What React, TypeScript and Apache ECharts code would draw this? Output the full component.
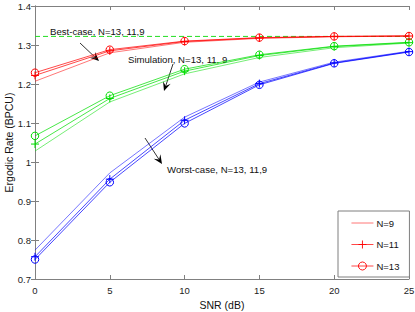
import React, { useEffect, useRef } from "react";
import * as echarts from "echarts";

const snr = [0, 5, 10, 15, 20, 25];
const xTicks = [0, 5, 10, 15, 20, 25];
const yTicks = [0.7, 0.8, 0.9, 1, 1.1, 1.2, 1.3, 1.4];

const bestBound = [1.322, 1.322, 1.322, 1.322, 1.322, 1.322];

const redN13 = [1.229, 1.288, 1.310, 1.319, 1.322, 1.323];
const redN11 = [1.222, 1.285, 1.309, 1.318, 1.322, 1.323];
const redN9 = [1.207, 1.280, 1.307, 1.317, 1.321, 1.323];

const greenN13 = [1.067, 1.170, 1.238, 1.275, 1.297, 1.307];
const greenN11 = [1.046, 1.163, 1.233, 1.273, 1.296, 1.306];
const greenN9 = [1.028, 1.154, 1.226, 1.268, 1.293, 1.305];

const blueN13 = [0.750, 0.948, 1.099, 1.198, 1.253, 1.282];
const blueN11 = [0.757, 0.956, 1.107, 1.201, 1.254, 1.283];
const blueN9 = [0.774, 0.972, 1.115, 1.205, 1.256, 1.284];

const FONT = "Liberation Sans, Arial, Helvetica, sans-serif";
const PLUS = "path://M5,0L5,10M0,5L10,5";

function pairs(v: number[]) {
  return snr.map((x, i) => [x, v[i]]);
}

function mkSeries(name: string, vals: number[], color: string, kind: "none" | "plus" | "circle", z = 2) {
  const s: any = {
    type: "line",
    name,
    color,
    data: pairs(vals),
    z,
    lineStyle: { color, width: 0.9, opacity: kind === "none" ? 0.6 : 0.8 },
    itemStyle: { color: "transparent", borderColor: color, borderWidth: kind === "none" ? 0 : 1 },
    emphasis: { disabled: true },
    showSymbol: kind !== "none",
  };
  if (kind === "none") {
    s.symbol = "none";
  } else if (kind === "plus") {
    s.symbol = PLUS;
    s.symbolSize = 8;
  } else {
    s.symbol = "circle";
    s.symbolSize = 7.5;
  }
  return s;
}

function arrow(x1: number, y1: number, x2: number, y2: number) {
  const dx = x2 - x1;
  const dy = y2 - y1;
  const len = Math.sqrt(dx * dx + dy * dy);
  const ux = dx / len;
  const uy = dy / len;
  const hl = 9;
  const hw = 4;
  const bx = x2 - ux * hl;
  const by = y2 - uy * hl;
  const nx = -uy;
  const ny = ux;
  const mx = x2 - ux * hl * 0.6;
  const my = y2 - uy * hl * 0.6;
  return [
    {
      type: "line",
      shape: { x1, y1, x2: mx, y2: my },
      style: { stroke: "#000", lineWidth: 0.8 },
      silent: true,
    },
    {
      type: "polygon",
      shape: {
        points: [
          [x2, y2],
          [bx + nx * hw, by + ny * hw],
          [mx, my],
          [bx - nx * hw, by - ny * hw],
        ],
      },
      style: { fill: "#000" },
      silent: true,
    },
  ];
}

function label(text: string, x: number, y: number) {
  return {
    type: "text",
    x,
    y,
    style: { text, fill: "#111", font: `9.6px ${FONT}`, textVerticalAlign: "middle" },
    silent: true,
  };
}

export default function App() {
  const ref = useRef<HTMLDivElement>(null);
  useEffect(() => {
    const chart = echarts.init(ref.current!, null, { renderer: "svg" });
    const axisColor = "#808080";
    const fmt = (v: number) => String(+Number(v).toFixed(1));
    const legendMark = { color: "transparent", borderColor: "#ff0000", borderWidth: 0.9 };
    const option: any = {
      animation: false,
      backgroundColor: "#fff",
      grid: { left: 35, right: 6, top: 6, bottom: 33, show: false, containLabel: false, outerBoundsMode: "none" },
      legend: {
        orient: "vertical",
        left: 338,
        top: 211,
        data: [
          { name: "N=9" },
          { name: "N=11", itemStyle: legendMark, lineStyle: { width: 0.9 } },
          { name: "N=13", itemStyle: legendMark, lineStyle: { width: 0.9 } },
        ],
        backgroundColor: "#fff",
        borderColor: "#7f7f7f",
        borderWidth: 1,
        borderRadius: 0,
        padding: [7, 10, 6, 13],
        itemWidth: 22,
        itemHeight: 10,
        itemGap: 11.5,
        selectedMode: false,
        lineStyle: { width: 0.9 },
        textStyle: { fontFamily: FONT, fontSize: 9.5, color: "#111", padding: [0, 0, 0, -2] },
      },
      xAxis: [
        {
          type: "value",
          min: 0,
          max: 25,
          interval: 5,
          name: "SNR (dB)",
          nameLocation: "middle",
          nameGap: 20,
          nameMoveOverlap: false,
          nameTextStyle: { fontFamily: FONT, fontSize: 10.5, color: "#111" },
          axisLine: { show: true, lineStyle: { color: axisColor, width: 1 } },
          axisTick: { show: true, inside: true, length: 4, lineStyle: { color: axisColor } },
          axisLabel: { fontFamily: FONT, fontSize: 9.5, color: "#222", margin: 6, formatter: (v: number) => (xTicks.includes(v) ? String(v) : "") },
          splitLine: { show: false },
        },
        {
          type: "value",
          position: "top",
          min: 0,
          max: 25,
          interval: 5,
          axisLine: { show: true, lineStyle: { color: axisColor, width: 1 } },
          axisTick: { show: true, inside: true, length: 4, lineStyle: { color: axisColor } },
          axisLabel: { show: false },
          splitLine: { show: false },
        },
      ],
      yAxis: [
        {
          type: "value",
          min: 0.7,
          max: 1.4,
          interval: 0.1,
          name: "Ergodic Rate (BPCU)",
          nameLocation: "middle",
          nameGap: 21,
          nameMoveOverlap: false,
          nameTextStyle: { fontFamily: FONT, fontSize: 10.5, color: "#111" },
          axisLine: { show: true, lineStyle: { color: axisColor, width: 1 } },
          axisTick: { show: true, inside: true, length: 4, lineStyle: { color: axisColor } },
          axisLabel: {
            fontFamily: FONT,
            fontSize: 9.5,
            color: "#222",
            margin: 4,
            formatter: (v: number) => (yTicks.some((t) => Math.abs(t - v) < 1e-6) ? fmt(v) : ""),
          },
          splitLine: { show: false },
        },
        {
          type: "value",
          position: "right",
          min: 0.7,
          max: 1.4,
          interval: 0.1,
          axisLine: { show: true, lineStyle: { color: axisColor, width: 1 } },
          axisTick: { show: true, inside: true, length: 4, lineStyle: { color: axisColor } },
          axisLabel: { show: false },
          splitLine: { show: false },
        },
      ],
      series: [
        {
          type: "line",
          name: "bound",
          color: "#22dd22",
          data: pairs(bestBound),
          symbol: "none",
          showSymbol: false,
          z: 1,
          itemStyle: { color: "#22dd22" },
          lineStyle: { color: "#22dd22", width: 1, type: [5, 3], opacity: 1 },
          emphasis: { disabled: true },
        },
        mkSeries("b9", blueN9, "#0000ff", "none"),
        mkSeries("b11", blueN11, "#0000ff", "plus"),
        mkSeries("b13", blueN13, "#0000ff", "circle"),
        mkSeries("g9", greenN9, "#00dd00", "none"),
        mkSeries("g11", greenN11, "#00dd00", "plus"),
        mkSeries("g13", greenN13, "#00dd00", "circle"),
        mkSeries("N=9", redN9, "#ff0000", "none", 3),
        mkSeries("N=11", redN11, "#ff0000", "plus", 3),
        mkSeries("N=13", redN13, "#ff0000", "circle", 3),
      ],
      graphic: [
        label("Best-case, N=13, 11,9", 50, 31),
        ...arrow(80, 43, 99, 61),
        label("Simulation, N=13, 11, 9", 128, 59),
        ...arrow(173, 64, 164, 91),
        label("Worst-case, N=13, 11,9", 167, 169),
        ...arrow(145, 138, 162, 164),
      ],
    };
    chart.setOption(option);
    return () => chart.dispose();
  }, []);
  return <div ref={ref} style={{ position: "absolute", left: 0, top: 0, width: 415, height: 312 }} />;
}
